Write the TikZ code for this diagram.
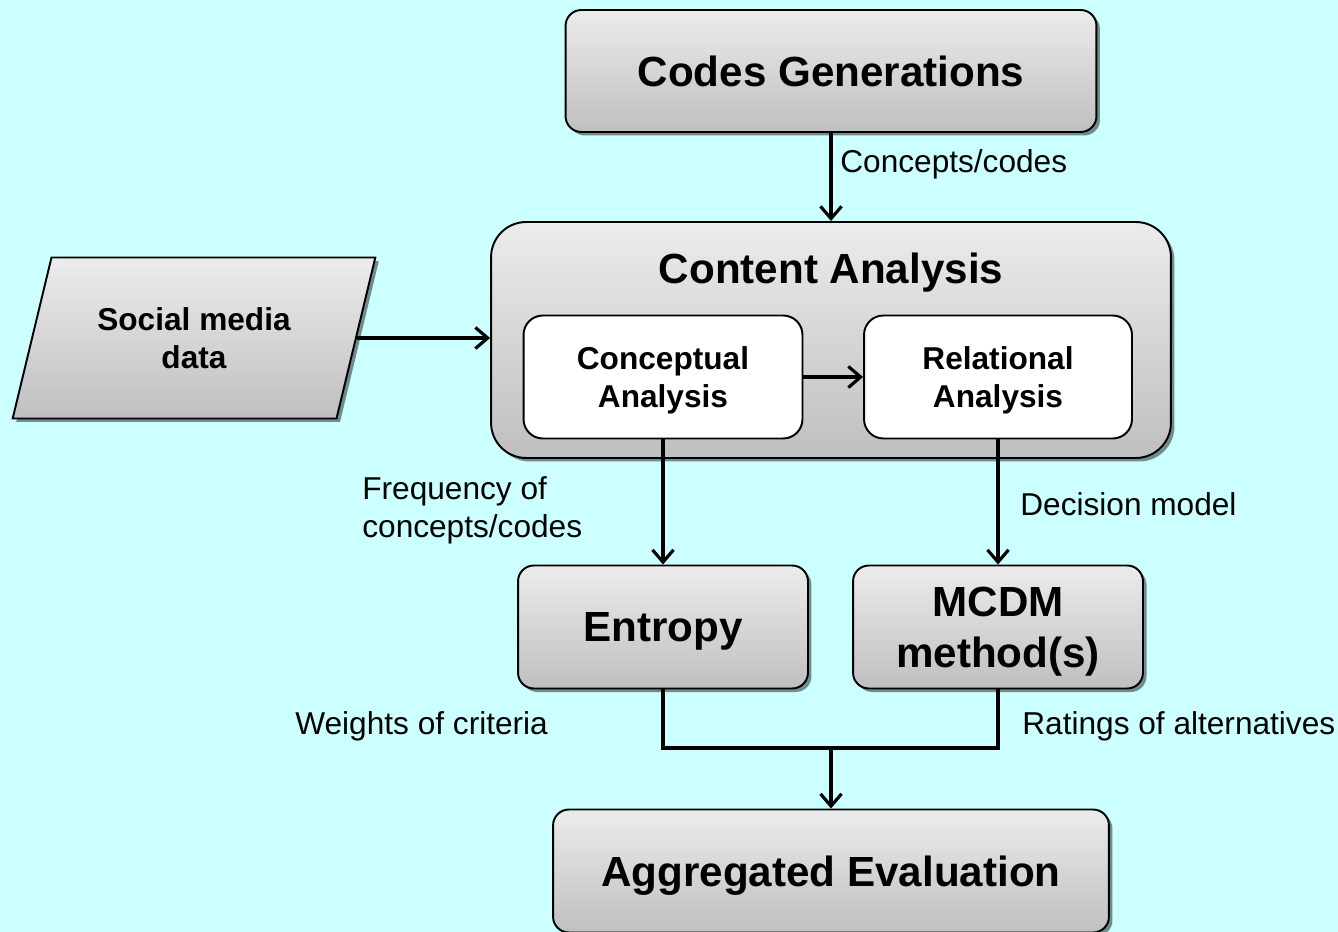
\documentclass[tikz,border=0pt]{standalone}
\usepackage{fontspec}
\setmainfont{Liberation Sans}
\usepackage{xcolor}
\usepackage{tikz}
\usetikzlibrary{positioning, arrows.meta, shapes.geometric, shadows}
\definecolor{bgcyan}{HTML}{CCFFFF}

\begin{document}
\begin{tikzpicture}[
    x=0.02cm, y=-0.02cm,
    box/.style={
        rectangle,
        draw=black,
        line width=1.1pt,
        top color=gray!15,
        bottom color=gray!50,
        rounded corners=9pt,
        drop shadow={shadow xshift=2pt, shadow yshift=-2pt, fill=black, opacity=0.45},
        align=center,
        text depth=0pt,
        font=\fontsize{24}{29}\selectfont\bfseries
    },
    inbox/.style={
        rectangle,
        draw=black,
        line width=1.1pt,
        fill=white,
        rounded corners=11pt,
        align=center,
        text depth=0pt,
        font=\fontsize{18}{21.5}\selectfont\bfseries
    },
    data/.style={
        trapezium,
        trapezium left angle=69,
        trapezium right angle=111,
        trapezium stretches=true,
        draw=black,
        line width=1.1pt,
        top color=gray!15,
        bottom color=gray!50,
        drop shadow={shadow xshift=2pt, shadow yshift=-2pt, fill=black, opacity=0.45},
        align=center,
        font=\fontsize{18}{21.5}\selectfont\bfseries
    },
    lbl/.style={inner sep=0pt, anchor=west, align=left, font=\fontsize{18}{21.5}\selectfont},
    flow/.style={-{Straight Barb[length=7pt,width=12pt]}, line width=1.8pt},
    link/.style={line width=1.8pt}
]

\def\xl{663}
\def\xm{831}
\def\xr{998}

\path[use as bounding box, fill=bgcyan] (0,0) rectangle (1338,932);

% Boxes
\node[box, minimum width=10.62cm, minimum height=2.44cm] (cg) at (\xm, 71) {Codes Generations};
\node[box, rounded corners=20pt, minimum width=13.6cm, minimum height=4.72cm] (ca) at (\xm, 340) {};
\node[inner sep=0pt, text depth=0pt, font=\fontsize{24}{29}\selectfont\bfseries] (catitle) at (\xm, 268) {Content Analysis};
\node[inbox, minimum width=5.58cm, minimum height=2.46cm] (conc) at (\xl, 377) {Conceptual\\Analysis};
\node[inbox, minimum width=5.36cm, minimum height=2.46cm] (rel) at (\xr, 377) {Relational\\Analysis};
\node[data, minimum width=7.26cm, minimum height=3.22cm] (smd) at (194, 338) {Social media\\data};
\node[box, minimum width=5.8cm, minimum height=2.46cm] (ent) at (\xl, 627) {Entropy};
\node[box, minimum width=5.8cm, minimum height=2.46cm] (mcdm) at (\xr, 627) {MCDM\\method(s)};
\node[box, minimum width=11.12cm, minimum height=2.46cm] (agg) at (\xm, 871) {Aggregated Evaluation};

% Connectors
\draw[flow] (cg.south) -- (ca.north);
\draw[flow] (smd.east) -- (smd.east -| ca.west);
\draw[flow] (conc.east) -- (rel.west);
\draw[flow] (conc.south) -- (ent.north);
\draw[flow] (rel.south) -- (mcdm.north);
\coordinate (jn) at (\xm, 748);
\draw[link] (ent.south) |- (jn) -| (mcdm.south);
\draw[flow] (jn) -- (agg.north);

% Labels
\node[lbl] (l1) at (840, 164) {Concepts/codes};
\node[lbl] (l2) at (362, 510) {Frequency of\\concepts/codes};
\node[lbl] (l3) at (1020, 504) {Decision model};
\node[lbl] (l4) at (295, 726) {Weights of criteria};
\node[lbl] (l5) at (1022, 726) {Ratings of alternatives};

\end{tikzpicture}
\end{document}
